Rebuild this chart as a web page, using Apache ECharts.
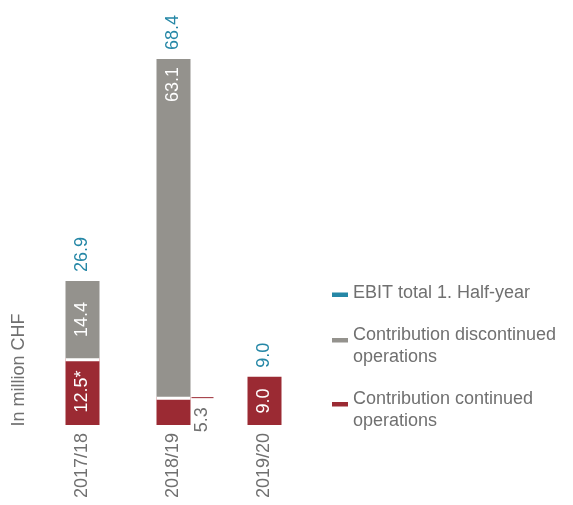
<!DOCTYPE html>
<html>
<head>
    <meta charset="utf-8">
    <title>EBIT</title>
    <script src="https://cdn.jsdelivr.net/npm/echarts@6/dist/echarts.min.js"></script>
</head>
<body style="margin:0">
    <div id="main" style="width: 573px;height: 505px;"></div>
    <script type="text/javascript">
        // data
        var years = ['2017/18', '2018/19', '2019/20'];
        var continued = [12.5, 5.3, 9.0];
        var discontinued = [14.4, 63.1, null];
        var totals = [26.9, 68.4, 9.0];
        var continuedLabels = ['12.5*', '5.3', '9.0'];

        var RED = '#9b2a33', GREY = '#94928d', TEAL = '#2587a6', TXT = '#707070';
        var FONT = '"Liberation Sans", Arial, sans-serif';

        var myChart = echarts.init(document.getElementById('main'));

        var option = {
            animation: false,
            textStyle: { fontFamily: FONT },
            grid: { left: 37, width: 273, top: 50.5, bottom: 80 },
            legend: {
                orient: 'vertical',
                left: 327,
                top: 277,
                itemGap: 20,
                itemWidth: 16,
                itemHeight: 20,
                selectedMode: false,
                textStyle: { fontSize: 18, lineHeight: 22, color: TXT, fontFamily: FONT },
                data: [
                    { name: 'EBIT total 1. Half-year', icon: 'path://M0,0L16,0M0,9.5H16V14H0ZM0,20L16,20', itemStyle: { color: TEAL } },
                    { name: 'Contribution discontinued\noperations', icon: 'path://M0,0L16,0M0,2H16V6.5H0ZM0,20L16,20' },
                    { name: 'Contribution continued\noperations', icon: 'path://M0,0L16,0M0,2H16V6.5H0ZM0,20L16,20' }
                ]
            },
            graphic: [{
                type: 'text',
                x: 19,
                y: 370,
                rotation: Math.PI / 2,
                style: {
                    text: 'In million CHF',
                    fill: TXT,
                    font: '18px ' + FONT,
                    align: 'center',
                    verticalAlign: 'middle'
                }
            }],
            xAxis: {
                type: 'category',
                data: years,
                axisLine: { show: false },
                axisTick: { show: false },
                axisLabel: { rotate: 90, margin: 8, fontSize: 18, color: TXT, fontFamily: FONT }
            },
            yAxis: {
                type: 'value',
                min: 0,
                max: 70,
                show: false
            },
            series: [
                {
                    name: 'Contribution continued\noperations',
                    type: 'bar',
                    stack: 'ebit',
                    barWidth: 34,
                    barGap: '-100%',
                    silent: true,
                    itemStyle: { color: RED },
                    label: {
                        show: true,
                        position: 'inside',
                        rotate: 90,
                        fontSize: 18,
                        color: '#fff',
                        formatter: function (p) { return continuedLabels[p.dataIndex]; }
                    },
                    data: continued.map(function (v, i) {
                        if (i === 1) {
                            // value written beside the bar, with a thin leader line at its top
                            return {
                                value: v,
                                label: {
                                    position: [46, 18],
                                    color: TXT,
                                    align: 'center',
                                    verticalAlign: 'middle',
                                    formatter: function (p) { return continuedLabels[p.dataIndex] + '{s|}{l|}'; },
                                    rich: {
                                        s: { width: 9 },
                                        l: { width: 1, height: 22, backgroundColor: RED }
                                    }
                                }
                            };
                        }
                        return v;
                    })
                },
                {
                    name: 'Contribution discontinued\noperations',
                    type: 'bar',
                    stack: 'ebit',
                    barWidth: 34,
                    silent: true,
                    itemStyle: { color: GREY, shadowColor: '#fff', shadowOffsetY: 3, shadowBlur: 0 },
                    label: {
                        show: true,
                        position: 'inside',
                        rotate: 90,
                        fontSize: 18,
                        color: '#fff'
                    },
                    data: discontinued.map(function (v, i) {
                        if (i === 1) {
                            return {
                                value: v,
                                label: { position: 'insideTop', distance: 8, align: 'right', verticalAlign: 'middle' }
                            };
                        }
                        return v;
                    })
                },
                {
                    name: 'EBIT total 1. Half-year',
                    type: 'bar',
                    barWidth: 34,
                    silent: true,
                    itemStyle: { color: 'rgba(0,0,0,0)' },
                    label: {
                        show: true,
                        position: 'top',
                        distance: 9,
                        rotate: 90,
                        align: 'left',
                        verticalAlign: 'middle',
                        fontSize: 18,
                        color: TEAL,
                        formatter: function (p) { return p.value.toFixed(1); }
                    },
                    data: totals
                }
            ]
        };

        myChart.setOption(option);
        window.onresize = myChart.resize;
    </script>
</body>
</html>
